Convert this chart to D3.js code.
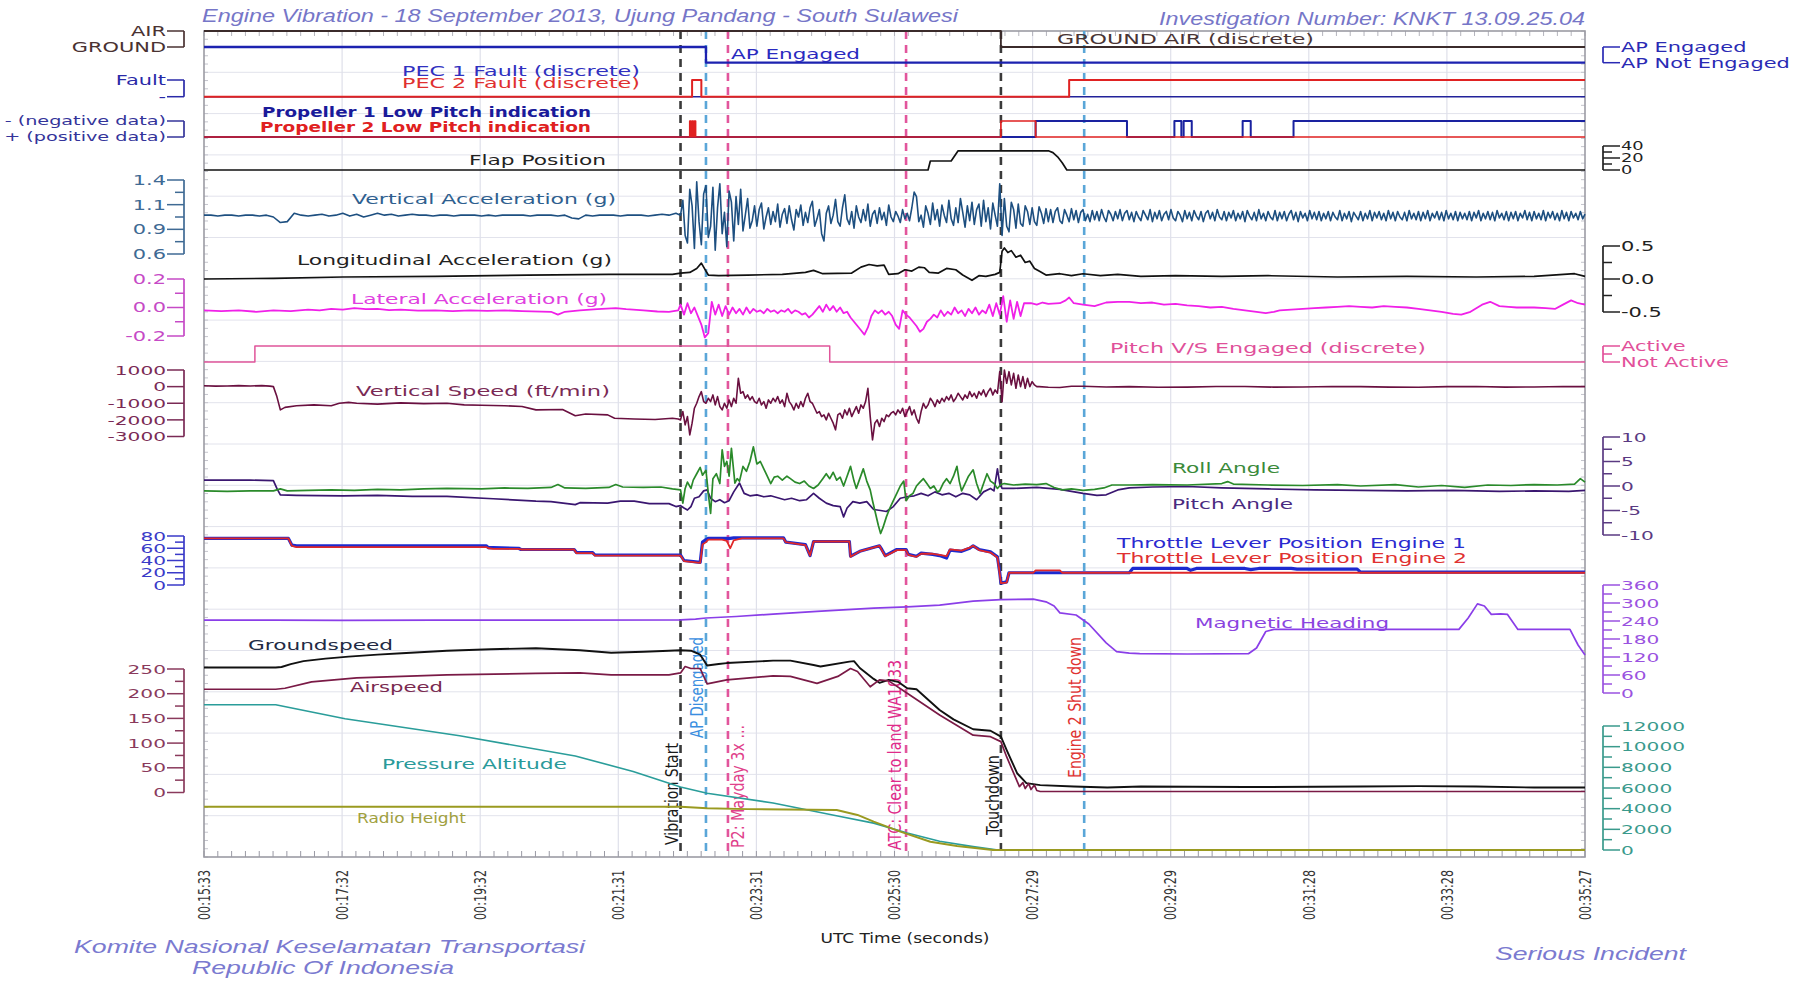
<!DOCTYPE html>
<html>
<head>
<meta charset="utf-8">
<title>Engine Vibration - FDR parameters</title>
<script src="https://cdn.jsdelivr.net/npm/d3@7/dist/d3.min.js"></script>
<style>
  html, body { margin: 0; padding: 0; background: #ffffff; }
  svg { display: block; }
</style>
</head>
<body>
<svg id="chart" width="1803" height="981"></svg>
<script>
// ------------------------------------------------------------------
// Flight data. Times are seconds after 00:15:33 UTC.
// ------------------------------------------------------------------
const timeTickLabels = ["00:15:33","00:17:32","00:19:32","00:21:31","00:23:31","00:25:30",
                        "00:27:29","00:29:29","00:31:28","00:33:28","00:35:27"];
const spanSeconds = 1194;

const eventNames = ["Vibration Start","AP Disengaged","P2: Mayday 3x ...",
                    "ATC: Clear to land WA1033","Touchdown","Engine 2 Shut down"];
const eventTimes = [412, 434, 453, 607, 689, 761];

// discrete parameters, [time, state]
const airGround = [[0,1],[689,0],[1194,0]];            // 1 = AIR, 0 = GROUND
const apEngaged = [[0,1],[434,0],[1194,0]];            // 1 = engaged
const pec1Fault = [[0,0],[1194,0]];
const pec2Fault = [[0,0],[422,1],[430,0],[748,1],[1194,1]];
const prop1LowPitch = [[0,0],[719,1],[798,0],[839,1],[845,0],[847,1],[854,0],[898,1],[905,0],[942,1],[1194,1]];
const prop2LowPitch = [[0,0],[420,1],[421,0],[422,1],[423,0],[424,1],[425,0],[689,1],[719,0],[1194,0]];
const pitchVSEngaged = [[0,0],[44,1],[541,0],[1194,0]];

// flap position (deg)
const flapPosition = [[0,0],[626,0],[628,15],[646,15],[652,32],[730,32],[734,29],[738,22],[742,12],[746,0],[1194,0]];

// vertical acceleration (g): 6 s samples before the vibration, 2 s samples from its start
const vertAccelPre = [1.02,1.02,1.01,1.02,1.02,1.01,1.02,1.02,1.01,1.02,
                      1.0,0.94,0.95,1.04,1.02,1.01,1.02,1.03,1.01,1.02,
                      1.04,1.01,1.03,1.0,1.02,1.04,1.02,1.03,1.01,1.02,
                      1.03,1.02,1.02,1.01,1.02,1.02,1.01,1.02,1.02,1.02,
                      1.01,1.02,1.01,1.02,1.02,1.02,1.02,1.01,1.02,1.02,
                      1.02,1.01,1.02,0.99,0.98,1.02,1.01,1.02,1.02,1.02,
                      1.01,1.02,1.02,1.02,1.01,1.02,1.03,1.02,1.04];
const vertAccelVib = [1.02,1.18,0.8,0.72,1.3,1.12,0.66,1.38,0.95,0.7,1.25,1.34,0.78,0.9,1.32,0.64,1.1,1.36,0.82,1.05,
                      0.68,1.28,1.16,0.74,1.22,0.92,1.3,0.85,1.02,1.2,0.88,0.96,1.12,0.9,1.08,1.15,0.87,1.0,1.1,0.92,
                      1.06,0.95,1.14,0.89,1.03,1.09,0.93,1.12,0.97,0.86,1.08,1.0,1.13,0.91,1.05,0.94,1.1,1.17,0.9,0.98,
                      1.08,0.82,0.74,1.04,1.12,0.93,1.02,1.19,0.95,0.9,1.1,1.24,0.98,0.92,1.06,0.88,1.12,1.0,0.94,1.08,
                      0.96,1.14,0.9,1.03,1.07,0.93,1.1,0.97,1.05,0.91,1.13,1.0,0.95,1.06,1.01,0.94,1.08,0.98,1.04,0.96,
                      1.1,1.27,1.22,0.95,1.02,0.89,1.12,1.04,0.92,1.15,0.97,1.08,0.9,1.13,1.02,0.94,1.18,0.98,0.91,1.1,
                      0.94,1.2,1.05,0.89,1.12,0.96,1.16,0.92,1.08,1.14,0.9,1.18,0.95,1.1,0.87,1.15,1.02,0.9,1.36];
const vertAccelPost = [0.8,1.2,0.9,0.84,1.16,1.08,0.88,1.14,0.93,0.9,1.12,1.06,0.92,1.1,0.95,0.91,1.11,1.04,0.93,1.09,
                       0.95,1.08,0.94,1.06,1.1,0.96,0.93,1.08,1.02,0.95,1.09,0.97,1.07,0.94,1.05,1.08,0.96,1.03,0.95,1.07,
                       0.97,1.06,0.96,1.08,1.0,0.95,1.07,1.03,0.96,1.06,0.98,1.08,0.96,1.04,1.07,0.97,1.05,0.95,1.06,1.0,
                       0.96,1.07,1.02,0.97,1.08,0.95,1.05,0.98,1.07,0.96,1.03,1.06,0.97,1.08,0.99,0.96,1.06,1.02,0.95,1.07,
                       0.98,1.05,0.96,1.07,1.01,0.97,1.06,0.95,1.04,1.07,0.98,1.05,0.96,1.08,1.0,0.97,1.06,0.96,1.05,0.99,
                       1.07,0.96,1.04,0.98,1.06,0.95,1.07,1.01,0.97,1.05,0.96,1.08,0.98,1.04,0.96,1.06,1.0,0.97,1.07,0.96,
                       1.05,0.98,1.06,0.96,1.03,1.07,0.97,1.05,0.95,1.06,0.99,1.04,0.96,1.07,0.98,1.05,0.97,1.06,0.96,1.04,
                       0.98,1.06,0.96,1.05,1.0,0.97,1.07,0.96,1.04,0.98,1.06,0.95,1.05,1.01,0.97,1.06,0.96,1.04,0.98,1.07,
                       0.96,1.05,0.99,1.06,0.97,1.04,0.96,1.07,0.98,1.05,0.96,1.06,1.0,0.97,1.05,0.96,1.07,0.98,1.04,0.97,
                       1.06,0.96,1.05,0.98,1.07,0.96,1.04,0.99,1.06,0.97,1.05,0.96,1.07,0.98,1.04,0.97,1.06,0.96,1.05,0.98,
                       1.04,0.97,1.06,0.96,1.05,0.99,1.07,0.96,1.04,0.98,1.06,0.97,1.05,0.96,1.07,0.99,1.04,0.97,1.06,0.96,
                       1.05,0.98,1.06,0.96,1.04,0.99,1.07,0.97,1.05,0.96,1.06,0.98,1.04,0.97,1.07,0.96,1.05,0.99,1.06,0.97,
                       1.04,0.96,1.07,0.98,1.05,0.96,1.06,0.99,1.04,0.97,1.06,0.98,1.03];

// longitudinal acceleration (g)
const longAccel = [[0,0.0],[60,0.01],[120,0.03],[200,0.04],[280,0.06],[350,0.07],[405,0.07],[412,0.09],[420,0.1],
  [426,0.16],[430,0.24],[433,0.15],[436,0.06],[445,0.05],[470,0.06],[500,0.07],[520,0.1],[527,0.13],[535,0.08],
  [560,0.09],[568,0.18],[575,0.22],[582,0.2],[588,0.21],[592,0.07],[600,0.08],[606,0.14],[612,0.12],[618,0.18],
  [623,0.17],[627,0.1],[635,0.09],[642,0.16],[650,0.14],[656,0.06],[664,-0.02],[670,0.05],[676,0.04],[684,0.07],
  [688,0.1],[690,0.42],[692,0.47],[695,0.4],[698,0.43],[702,0.33],[706,0.36],[710,0.25],[714,0.27],[718,0.16],
  [722,0.12],[728,0.06],[740,0.08],[750,0.05],[760,0.08],[775,0.05],[790,0.07],[810,0.04],[840,0.05],[880,0.04],
  [920,0.05],[980,0.03],[1040,0.04],[1100,0.03],[1150,0.04],[1185,0.08],[1194,0.04]];

// lateral acceleration (g)
const latAccelPre = [[0,-0.02],[15,-0.025],[30,-0.02],[45,-0.03],[60,-0.02],[75,-0.025],[90,-0.015],[100,-0.02],
  [110,-0.01],[120,-0.015],[130,-0.005],[140,-0.012],[150,-0.01],[160,-0.018],[170,-0.015],[185,-0.022],[200,-0.02],
  [215,-0.025],[230,-0.02],[245,-0.024],[260,-0.02],[275,-0.025],[300,-0.03],[306,-0.05],[312,-0.03],[325,-0.02],
  [340,-0.012],[356,-0.005],[365,-0.012],[380,-0.02],[392,-0.028],[402,-0.03],[410,-0.02]];
const latAccelVib = [0.02,-0.05,0.03,-0.04,0.0,-0.06,-0.12,-0.21,-0.18,0.04,-0.05,0.02,-0.06,0.01,-0.05,0.0,-0.04,
  -0.01,-0.05,0.0,-0.04,-0.01,-0.03,-0.02,-0.04,-0.01,-0.03,-0.02,-0.04,-0.02,-0.03,-0.01,-0.04,-0.02,-0.03,-0.05,
  -0.04,-0.07,-0.05,-0.02,0.01,-0.03,0.02,-0.02,0.01,-0.03,0.0,-0.04,-0.03,-0.07,-0.1,-0.13,-0.16,-0.19,-0.14,
  -0.06,-0.02,-0.04,-0.02,-0.05,-0.03,-0.06,-0.12,-0.15,-0.02,-0.05,-0.07,-0.1,-0.13,-0.17,-0.15,-0.1,-0.08,-0.05,
  -0.07,-0.02,-0.06,-0.03,-0.05,0.0,-0.04,-0.02,-0.06,-0.01,-0.04,0.0,-0.05,-0.02,-0.04,0.02,-0.06,0.03,-0.05,0.08,
  -0.1,0.05,-0.08,0.04,-0.06,0.03,0.03];
const latAccelPost = [[715,0.03],[720,0.02],[725,0.035],[730,0.025],[740,0.03],[745,0.05],[748,0.07],[752,0.03],
  [760,0.02],[770,0.01],[780,0.035],[790,0.04],[800,0.04],[810,0.03],[820,0.035],[830,0.02],[840,0.025],[850,0.015],
  [860,0.01],[870,0.0],[880,0.005],[890,-0.01],[900,-0.02],[910,-0.03],[918,-0.04],[925,-0.03],[930,-0.02],
  [940,-0.015],[950,-0.01],[960,-0.005],[970,0.0],[980,0.005],[990,0.01],[1000,0.005],[1010,0.0],[1020,0.01],
  [1030,0.005],[1040,0.0],[1050,-0.01],[1060,-0.02],[1070,-0.03],[1080,-0.045],[1087,-0.05],[1095,-0.03],
  [1105,0.02],[1112,0.04],[1120,0.01],[1128,0.005],[1135,0.0],[1150,0.0],[1160,-0.005],[1168,-0.01],[1175,0.02],
  [1182,0.05],[1188,0.03],[1194,0.02]];

// vertical speed (ft/min)
const vertSpeedPre = [[0,50],[10,30],[20,40],[30,60],[40,40],[50,60],[57,30],[60,0],[63,-600],[66,-1400],[70,-1250],
  [80,-1150],[95,-1100],[110,-1150],[117,-1000],[125,-950],[132,-1000],[150,-1050],[170,-980],[190,-1020],
  [210,-1000],[225,-1100],[240,-1120],[260,-1150],[275,-1200],[287,-1400],[310,-1380],[321,-1750],[330,-1650],
  [349,-1700],[355,-1900],[372,-1950],[390,-1980],[405,-1900],[410,-1950]];
const vertSpeedVib = [-2000,-1500,-2300,-1800,-2900,-2200,-1300,-1000,-600,-300,-900,-1000,-700,-900,-500,-1100,
  -600,-1200,-1400,-1000,-1300,-800,-1200,-700,-1000,500,-400,-300,-700,-500,-800,-600,-900,-1000,-700,-1100,-900,
  -1300,-800,-1000,-700,-900,-600,-1000,-800,-1200,-400,-900,-1100,-1400,-1000,-1300,-900,-1200,-700,-400,-900,
  -1000,-1300,-1600,-1500,-1800,-1700,-2000,-1600,-1900,-2200,-2600,-1700,-1600,-1900,-1400,-1700,-1300,-1800,
  -1500,-1200,-1600,-1100,-1300,-900,-100,-1800,-3200,-2200,-2000,-2400,-1900,-2100,-1700,-1800,-1600,-1500,-1700,
  -1400,-1600,-1300,-1800,-1500,-1200,-1700,-1400,-1900,-2200,-1500,-1000,-1300,-1100,-700,-900,-1200,-800,-1000,
  -700,-900,-600,-800,-500,-900,-700,-400,-600,-800,-500,-700,-300,-600,-400,-700,-300,-500,-200,-600,-300,-100,
  -500,-200,-400,900,-900,1000,200,900,100,800,-100,700,0,600,-100,500,0,300,100,0];
const vertSpeedPost = [[722,0],[730,-40],[740,-50],[750,20],[760,20],[780,-20],[800,0],[825,-40],[850,-30],
  [875,10],[900,10],[925,-30],[950,-20],[975,10],[1000,0],[1025,-30],[1050,-40],[1075,0],[1100,10],[1125,-30],
  [1150,-20],[1175,10],[1194,0]];

// roll and pitch angle (deg)
const rollAngle = [[0,-1],[20,-1.1],[40,-1],[60,-1],[66,-0.6],[72,-1],[90,-0.9],[110,-0.8],[130,-0.9],[150,-0.7],
  [170,-0.8],[190,-0.6],[210,-0.5],[240,-0.6],[260,-0.4],[280,-0.5],[300,-0.3],[306,0.3],[312,-0.4],[330,-0.5],
  [350,-0.3],[356,0.3],[362,-0.2],[380,-0.3],[395,-0.2],[405,-0.6],[412,-0.8],[414,-3.5],[416,-0.5],[418,0.8],
  [421,-0.5],[423,1.2],[426,2.5],[429,3.8],[431,2.2],[434,3.2],[436,-1.5],[438,-5.6],[440,1.5],[443,2.5],[446,0.5],
  [448,7.4],[450,4],[452,5],[454,2],[456,7.7],[459,0.6],[461,1.5],[463,1],[466,4],[469,3],[472,5],[475,8],[478,4.5],
  [481,5],[484,3.5],[487,2],[490,0.5],[493,1.8],[496,2],[500,1.2],[504,2],[507,1.5],[511,0.8],[515,0.5],[519,1],
  [523,0],[527,-0.5],[531,0.2],[535,1.5],[538,2.5],[541,1.5],[544,2.8],[547,1.2],[550,1.8],[553,0],[556,2],[559,4],
  [562,1],[564,-0.5],[567,1.5],[570,3.5],[573,1],[576,-0.8],[578,-3],[580,-5],[583,-8],[585,-9.7],[587,-8.5],
  [590,-6.3],[593,-4.5],[596,-3],[599,-1.5],[602,0],[605,1],[607,-3],[610,-2],[613,-1.5],[616,0],[619,0.8],
  [622,1.5],[625,0.5],[628,-0.5],[631,0],[634,-1.2],[636,-1],[639,0.5],[642,1.5],[645,0.5],[648,2],[651,4],[653,1],
  [655,-1],[658,0.5],[661,2],[665,3.3],[668,0.5],[671,-1.5],[674,0.5],[677,2.5],[680,1],[683,0.5],[686,-0.5],
  [689,0.3],[692,0.5],[700,0.2],[710,0.4],[720,0.3],[728,0.5],[735,-0.3],[742,-0.8],[750,-0.6],[760,-0.9],
  [770,-0.7],[778,-0.4],[785,0.2],[800,0.2],[820,0.3],[850,0.2],[880,0.5],[885,0.9],[890,0.4],[920,0.2],[950,0.1],
  [980,0.3],[1000,0],[1030,0.3],[1050,-0.2],[1070,0.1],[1090,-0.3],[1110,0.2],[1130,0.1],[1150,0.3],[1170,0.2],
  [1185,0.4],[1190,1.5],[1194,0.8]];
const pitchAngle = [[0,1.2],[40,1.2],[60,1.1],[63,-0.5],[66,-1.8],[80,-1.9],[120,-2],[150,-1.9],[180,-2.1],
  [210,-2.1],[250,-2.6],[287,-3.1],[300,-3.2],[321,-3.8],[325,-3.4],[349,-3.5],[360,-3.1],[372,-3.1],[385,-3.6],
  [402,-3.6],[408,-4.2],[412,-4],[415,-4.5],[418,-4.9],[421,-4.2],[424,-2.5],[428,-2.2],[432,-1],[435,-0.8],
  [438,-2.5],[442,-3.2],[446,-2.8],[450,-3.4],[454,-3],[458,-1.2],[463,0.6],[467,-1.5],[472,-2],[478,-1.8],
  [484,-2.2],[490,-2],[496,-2.4],[502,-2.8],[508,-2.5],[515,-3],[521,-2.8],[527,-1.5],[532,-2.5],[538,-3.5],
  [544,-4],[550,-4.2],[553,-6.3],[556,-4.5],[561,-3.2],[567,-3.5],[573,-3.2],[579,-4.8],[585,-5],[590,-5.2],
  [596,-4.2],[602,-2.5],[608,-2.2],[614,-2],[620,-1.5],[626,-2],[632,-1.2],[638,-1.8],[644,-1.5],[650,-2.2],
  [656,-1.5],[662,-1.8],[668,-2.8],[674,-1.2],[680,-0.5],[683,-1],[686,3.5],[688,0.5],[690,-0.5],[700,-0.5],
  [720,-0.3],[740,-0.7],[760,-1.5],[772,-1.9],[780,-1.8],[790,-0.8],[800,-0.4],[820,-0.2],[850,-0.1],[880,-0.4],
  [920,-0.6],[960,-0.8],[1000,-0.9],[1040,-1.0],[1080,-0.9],[1120,-1.1],[1150,-1.0],[1180,-1.1],[1194,-0.9]];

// throttle lever position (deg)
const tlaEngine1 = [[0,76],[73,76],[76,65],[80,64],[244,64],[246,61],[250,61],[272,60],[274,58],[320,58],[322,53],
  [336,53],[338,49],[412,49],[415,40],[429,37],[431,70],[434,74],[436,76],[452,76],[455,76],[458,77],[501,77],
  [503,70],[520,66],[524,48],[527,71],[558,71],[559,47],[567,55],[584,64],[586,58],[589,48],[599,58],[607,58],
  [609,50],[616,47],[620,52],[630,50],[636,48],[642,44],[645,57],[655,55],[662,60],[665,64],[670,58],[680,54],
  [686,46],[688,20],[689,3],[694,5],[696,20],[800,20],[803,27],[850,27],[853,24],[858,27],[900,27],[905,25],
  [912,27],[940,27],[945,26],[997,26],[1000,21],[1194,21]];
const tlaEngine2 = [[0,76],[73,76],[76,64],[80,62],[244,62],[246,60],[250,59],[272,59],[274,58],[320,58],[322,52],
  [336,52],[338,48],[412,48],[415,39],[429,36],[431,66],[434,70],[436,74],[448,74],[452,72],[455,60],[458,73],
  [465,76],[501,76],[503,70],[520,65],[524,48],[527,71],[558,71],[559,46],[567,55],[584,64],[586,57],[589,47],
  [599,57],[607,57],[609,49],[616,46],[620,51],[630,51],[636,49],[642,47],[645,58],[655,56],[662,61],[665,64],
  [670,57],[680,53],[686,45],[688,18],[689,3],[694,4],[696,20],[717,20],[719,24],[740,24],[742,20],[1194,20]];

// magnetic heading (deg)
const magHeading = [[0,243],[60,243],[120,242],[200,243],[300,243],[412,244],[425,246],[434,250],[460,255],
  [492,263],[530,272],[579,283],[608,287],[636,293],[665,306],[689,311],[717,313],[728,304],[735,290],[740,267],
  [754,260],[765,230],[780,167],[789,138],[800,133],[809,131],[850,130],[903,131],[910,150],[918,205],[925,212],
  [1085,212],[1093,250],[1101,297],[1107,290],[1113,262],[1121,264],[1127,262],[1136,212],[1181,212],[1188,160],
  [1194,127]];

// groundspeed and airspeed (kt)
const groundSpeed = [[0,253],[62,253],[67,254],[75,260],[86,266],[105,271],[125,275],[150,279],[171,282],
  [210,287],[248,290],[287,292],[325,288],[352,283],[380,285],[402,287],[412,288],[421,287],[429,279],[435,257],
  [445,260],[452,262],[492,267],[507,267],[527,258],[533,255],[558,265],[562,266],[567,252],[579,230],[584,222],
  [592,228],[600,224],[608,211],[616,209],[636,167],[648,148],[665,128],[680,125],[689,113],[694,86],[703,39],
  [711,19],[723,15],[752,12],[781,10],[810,12],[900,11],[1000,12],[1050,13],[1100,12],[1150,10],[1194,10]];
const airSpeed = [[0,209],[62,209],[70,211],[93,224],[132,232],[210,238],[287,241],[325,242],[352,238],[402,238],
  [412,242],[416,255],[421,251],[429,251],[435,220],[452,228],[492,236],[507,235],[530,221],[548,235],[559,251],
  [565,245],[576,214],[584,228],[592,226],[608,201],[636,157],[665,116],[680,113],[689,103],[694,72],[705,12],
  [708,20],[710,8],[713,18],[715,6],[718,15],[720,4],[723,2],[1194,2]];

// pressure altitude and radio height (ft)
const pressureAlt = [[0,14050],[62,14050],[122,12700],[221,11050],[321,9100],[371,7600],[412,6100],[435,5500],
  [492,4550],[550,3250],[579,2600],[608,1650],[636,850],[665,330],[685,20],[700,0],[1194,0]];
const radioHeight = [[0,4190],[412,4190],[435,4040],[470,3960],[547,3870],[565,3390],[579,2740],[602,1770],
  [628,800],[651,390],[682,0],[1194,0]];

// axis ranges
const flapDomain = [0, 40];
const vertAccelDomain = [0.6, 1.4];
const longAccelDomain = [-0.5, 0.5];
const latAccelDomain = [-0.2, 0.2];
const vertSpeedDomain = [-3000, 1000];
const attitudeDomain = [-10, 10];
const tlaDomain = [0, 80];
const headingDomain = [0, 360];
const speedDomain = [0, 250];
const altitudeDomain = [0, 12000];

// ------------------------------------------------------------------
// Drawing
// ------------------------------------------------------------------
const FONT = "'DejaVu Sans', Verdana, sans-serif";
const NARROW = "'Liberation Sans Narrow', 'DejaVu Sans Condensed', 'Liberation Sans', sans-serif";
const ITALIC = "'Liberation Sans', Arial, sans-serif";
const labelStretch = 1.55;

const svg = d3.select('#chart');
const plot = { left: 204, right: 1585, top: 31, bottom: 857 };

const sampled = (start, step, values) => values.map((v, i) => [start + i * step, v]);

const x = d3.scaleLinear().domain([0, spanSeconds]).range([plot.left, plot.right]);

const yAirGround = d3.scaleLinear().domain([0, 1]).range([47, 31]);
const yAP        = d3.scaleLinear().domain([0, 1]).range([62.7, 47]);
const yPEC       = d3.scaleLinear().domain([0, 1]).range([96.7, 80]);
const yProp      = d3.scaleLinear().domain([0, 1]).range([137, 121]);
const yFlap      = d3.scaleLinear().domain(flapDomain).range([170, 146]);
const yVertAcc   = d3.scaleLinear().domain(vertAccelDomain).range([254, 180]);
const yLongAcc   = d3.scaleLinear().domain(longAccelDomain).range([312, 246]);
const yLatAcc    = d3.scaleLinear().domain(latAccelDomain).range([336, 279]);
const yPitchVS   = d3.scaleLinear().domain([0, 1]).range([362, 346]);
const yVS        = d3.scaleLinear().domain(vertSpeedDomain).range([436.5, 370]);
const yAtt       = d3.scaleLinear().domain(attitudeDomain).range([535, 437]);
const yTLA       = d3.scaleLinear().domain(tlaDomain).range([585, 536]);
const yHdg       = d3.scaleLinear().domain(headingDomain).range([693, 585]);
const ySpd       = d3.scaleLinear().domain(speedDomain).range([792.5, 669]);
const yAlt       = d3.scaleLinear().domain(altitudeDomain).range([850, 726]);

// ---------- grid and frame ----------
const grid = svg.append('g');
const gridRows = 20;
for (let k = 1; k < gridRows; k++) {
  const y = plot.top + k * (plot.bottom - plot.top) / gridRows;
  grid.append('line').attr('x1', plot.left).attr('x2', plot.right).attr('y1', y).attr('y2', y)
    .attr('stroke', '#e2e3ec').attr('stroke-width', 1);
}
const tickSeconds = timeTickLabels.map((_, i) => i * spanSeconds / (timeTickLabels.length - 1));
tickSeconds.forEach((t, i) => {
  if (i === 0 || i === tickSeconds.length - 1) return;
  grid.append('line').attr('x1', x(t)).attr('x2', x(t)).attr('y1', plot.top).attr('y2', plot.bottom)
    .attr('stroke', '#dfe0ea').attr('stroke-width', 1.2);
});

const frame = svg.append('g');
for (let i = 0; i <= 100; i++) {
  const xx = x(i * spanSeconds / 100);
  frame.append('line').attr('x1', xx).attr('x2', xx).attr('y1', plot.bottom).attr('y2', plot.bottom - 6)
    .attr('stroke', '#9a9aa4').attr('stroke-width', 1);
  frame.append('line').attr('x1', xx).attr('x2', xx).attr('y1', plot.top).attr('y2', plot.top + 5)
    .attr('stroke', '#b4b4bc').attr('stroke-width', 1);
}
for (let k = 0; k <= 100; k++) {
  const y = plot.top + k * (plot.bottom - plot.top) / 100;
  frame.append('line').attr('x1', plot.left).attr('x2', plot.left + 4).attr('y1', y).attr('y2', y)
    .attr('stroke', '#c4c4cc').attr('stroke-width', 1);
  frame.append('line').attr('x1', plot.right - 4).attr('x2', plot.right).attr('y1', y).attr('y2', y)
    .attr('stroke', '#c4c4cc').attr('stroke-width', 1);
}
frame.append('rect').attr('x', plot.left).attr('y', plot.top)
  .attr('width', plot.right - plot.left).attr('height', plot.bottom - plot.top)
  .attr('fill', 'none').attr('stroke', '#9c9ca4').attr('stroke-width', 1.6);

// ---------- text helpers ----------
function fitText(g, str, x0, y0, width, o = {}) {
  const t = g.append('text').attr('x', x0).attr('y', y0).attr('dy', o.dy || '0.36em')
    .attr('font-family', o.family || FONT).attr('font-size', o.size || 14.5)
    .attr('fill', o.fill || '#222').attr('text-anchor', o.anchor || 'start')
    .attr('textLength', width).attr('lengthAdjust', 'spacingAndGlyphs').text(str);
  if (o.weight) t.attr('font-weight', o.weight);
  if (o.italic) t.attr('font-style', 'italic');
  if (o.rotate) t.attr('transform', `rotate(${o.rotate},${x0},${y0})`);
  return t;
}
function axisText(g, str, x0, y0, anchor, color, size) {
  return g.append('text')
    .attr('transform', `translate(${x0},${y0}) scale(${labelStretch},1)`)
    .attr('text-anchor', anchor).attr('dy', '0.36em')
    .attr('font-family', FONT).attr('font-size', size).attr('fill', color).text(str);
}

// bracket-style value axis at the left or right of the plot
function bracketAxis(scale, ticks, labelled, side, color, size = 13) {
  const g = svg.append('g');
  const xLine = side === 'left' ? 184 : 1603;
  const dir = side === 'left' ? -1 : 1;
  const ys = ticks.map(v => scale(v));
  g.append('line').attr('x1', xLine).attr('x2', xLine)
    .attr('y1', d3.min(ys)).attr('y2', d3.max(ys))
    .attr('stroke', color).attr('stroke-width', 1.7);
  ticks.forEach(v => {
    const lab = labelled.find(l => Math.abs(l[0] - v) < 1e-9);
    const len = lab ? 17 : 9;
    g.append('line').attr('x1', xLine).attr('x2', xLine + dir * len)
      .attr('y1', scale(v)).attr('y2', scale(v)).attr('stroke', color).attr('stroke-width', 1.5);
    if (lab) axisText(g, lab[1], xLine + dir * 18, scale(v), side === 'left' ? 'end' : 'start', color, size);
  });
}
const evenTicks = (domain, n) => d3.range(n + 1).map(i => domain[0] + i * (domain[1] - domain[0]) / n);
const hyphen = f => v => f(v).replace('\u2212', '-');
const fmt1 = hyphen(d3.format('.1f'));
const fmtInt = hyphen(d3.format('d'));
const withLabels = (ticks, every, f) => ticks.filter((_, i) => i % every === 0).map(v => [v, f(v)]);

// ---------- axes ----------
bracketAxis(yAirGround, [0, 1], [[1, 'AIR'], [0, 'GROUND']], 'left', '#4a3232', 13.5);
bracketAxis(yAP, [0, 1], [[1, 'AP Engaged'], [0, 'AP Not Engaged']], 'right', '#2a2ab4', 13.5);
bracketAxis(yPEC, [0, 1], [[1, 'Fault'], [0, '-']], 'left', '#2a2aa8', 13.5);
bracketAxis(yProp, [0, 1], [[1, '- (negative data)'], [0, '+ (positive data)']], 'left', '#34349a', 12.4);
{
  const t = evenTicks(flapDomain, 4);
  bracketAxis(yFlap, t, withLabels(t, 2, fmtInt), 'right', '#222', 11.5);
}
{
  const t = evenTicks(vertAccelDomain, 6);
  bracketAxis(yVertAcc, t, withLabels(t, 2, fmt1), 'left', '#3f6a94', 13.5);
}
{
  const t = evenTicks(longAccelDomain, 4);
  bracketAxis(yLongAcc, t, withLabels(t, 2, fmt1), 'right', '#222', 13.5);
}
{
  const t = evenTicks(latAccelDomain, 4);
  bracketAxis(yLatAcc, t, withLabels(t, 2, fmt1), 'left', '#c64ac6', 13.5);
}
bracketAxis(yPitchVS, [0, 0.5, 1], [[1, 'Active'], [0, 'Not Active']], 'right', '#e2509a', 13.5);
{
  const t = evenTicks(vertSpeedDomain, 4);
  bracketAxis(yVS, t, withLabels(t, 1, fmtInt), 'left', '#7a2a55', 13);
}
{
  const t = evenTicks(attitudeDomain, 8);
  bracketAxis(yAtt, t, withLabels(t, 2, fmtInt), 'right', '#5a3a82', 13);
}
{
  const t = evenTicks(tlaDomain, 8);
  bracketAxis(yTLA, t, withLabels(t, 2, fmtInt), 'left', '#3a3ac8', 13);
}
{
  const t = evenTicks(headingDomain, 12);
  bracketAxis(yHdg, t, withLabels(t, 2, fmtInt), 'right', '#9a52e0', 13);
}
{
  const t = evenTicks(speedDomain, 10);
  bracketAxis(ySpd, t, withLabels(t, 2, fmtInt), 'left', '#8a3a5c', 13);
}
{
  const t = evenTicks(altitudeDomain, 12);
  bracketAxis(yAlt, t, withLabels(t, 2, fmtInt), 'right', '#3a9a8c', 13);
}

// ---------- time axis ----------
const timeAxis = svg.append('g');
tickSeconds.forEach((t, i) => {
  fitText(timeAxis, timeTickLabels[i], x(t), 870, 50,
    { size: 16, family: FONT, fill: '#333', anchor: 'end', rotate: -90, dy: '0.36em' });
});
fitText(timeAxis, 'UTC Time (seconds)', 905, 938, 169, { size: 14, family: NARROW, fill: '#222', anchor: 'middle' });

// ---------- event markers ----------
const eventStyle = [
  { line: '#3a3a3a', text: '#1a1a1a', dx: -8.5, bottom: 845, len: 102 },
  { line: '#5aa6d8', text: '#3a8ee0', dx: -9,   bottom: 738, len: 101 },
  { line: '#e2559c', text: '#e0408a', dx: 10,   bottom: 848, len: 123 },
  { line: '#e2559c', text: '#e02a8a', dx: -11,  bottom: 850, len: 190 },
  { line: '#3a3a3a', text: '#1a1a1a', dx: -8,   bottom: 835, len: 80 },
  { line: '#5aa6d8', text: '#e03232', dx: -9,   bottom: 778, len: 141 }
];
const eventLayer = svg.append('g');
eventTimes.forEach((t, i) => {
  const s = eventStyle[i];
  eventLayer.append('line').attr('x1', x(t)).attr('x2', x(t)).attr('y1', plot.top).attr('y2', plot.bottom - 3)
    .attr('stroke', s.line).attr('stroke-width', 2.6).attr('stroke-dasharray', '8,6');
  fitText(eventLayer, eventNames[i], x(t) + s.dx, s.bottom, s.len,
    { size: 17, family: NARROW, fill: s.text, rotate: -90, dy: '0.36em' });
});

// ---------- series ----------
const lines = svg.append('g').attr('fill', 'none').attr('stroke-linejoin', 'round');
function draw(data, yScale, color, width, curve = d3.curveLinear) {
  const gen = d3.line().x(d => x(d[0])).y(d => yScale(d[1])).curve(curve);
  lines.append('path').attr('d', gen(data)).attr('stroke', color).attr('stroke-width', width);
}
const step = d3.curveStepAfter;

draw(airGround, yAirGround, '#3b2b2b', 1.8, step);
draw(apEngaged, yAP, '#1c22b0', 2.3, step);
draw(pec1Fault, yPEC, '#22229a', 1.5, step);
draw(pec2Fault, yPEC, '#e02222', 2.0, step);
draw(prop1LowPitch, yProp, '#1a22a0', 2.0, step);
draw(prop2LowPitch, yProp, '#e02020', 1.7, step);
draw(flapPosition, yFlap, '#111111', 1.7);

const vertAccel = [...sampled(0, 6, vertAccelPre), ...sampled(412, 2, vertAccelVib), ...sampled(690, 2, vertAccelPost)];
draw(vertAccel, yVertAcc, '#1d4f80', 1.6);
draw(longAccel, yLongAcc, '#111111', 1.7);
const latAccel = [...latAccelPre, ...sampled(412, 3, latAccelVib), ...latAccelPost];
draw(latAccel, yLatAcc, '#f020e8', 1.8);
draw(pitchVSEngaged, yPitchVS, '#e0559a', 1.5, step);
const vertSpeed = [...vertSpeedPre, ...sampled(412, 2, vertSpeedVib), ...vertSpeedPost];
draw(vertSpeed, yVS, '#6a1040', 1.6);
draw(pitchAngle, yAtt, '#3a1670', 1.7);
draw(rollAngle, yAtt, '#2a8a2a', 1.7);
draw(tlaEngine1, yTLA, '#1c2ad0', 3.2);
draw(tlaEngine2, yTLA, '#e02828', 1.8);
draw(magHeading, yHdg, '#8a3ee8', 1.7);
draw(groundSpeed, ySpd, '#111111', 1.9);
draw(airSpeed, ySpd, '#7a1a46', 1.7);
draw(pressureAlt, yAlt, '#2a9d9a', 1.6);
draw(radioHeight, yAlt, '#9a9a20', 1.9);

// ---------- series names ----------
const names = svg.append('g');
fitText(names, 'AP Engaged', 731, 54, 129, { fill: '#2a2ac0' });
fitText(names, 'GROUND AIR (discrete)', 1057, 39, 257, { fill: '#4a3535' });
fitText(names, 'PEC 1 Fault (discrete)', 402, 71, 238, { fill: '#3030c0', size: 13.5 });
fitText(names, 'PEC 2 Fault (discrete)', 402, 83.5, 238, { fill: '#e03030', size: 13.5 });
fitText(names, 'Propeller 1 Low Pitch indication', 262, 112, 329, { fill: '#1a1a9a', weight: 'bold' });
fitText(names, 'Propeller 2 Low Pitch indication', 260, 126.5, 331, { fill: '#e02020', weight: 'bold' });
fitText(names, 'Flap Position', 469, 160, 137, { fill: '#222' });
fitText(names, 'Vertical Acceleration (g)', 352, 199, 264, { fill: '#2f5f8f' });
fitText(names, 'Longitudinal Acceleration (g)', 297, 260, 315, { fill: '#222' });
fitText(names, 'Lateral Acceleration (g)', 351, 299, 256, { fill: '#e040e0' });
fitText(names, 'Pitch V/S Engaged (discrete)', 1110, 348, 316, { fill: '#e0509a' });
fitText(names, 'Vertical Speed (ft/min)', 356, 391, 254, { fill: '#7a2a55' });
fitText(names, 'Roll Angle', 1172, 468, 108, { fill: '#3a8a3a' });
fitText(names, 'Pitch Angle', 1172, 504, 121, { fill: '#4a2a80' });
fitText(names, 'Throttle Lever Position Engine 1', 1117, 543, 349, { fill: '#2a2ad0' });
fitText(names, 'Throttle Lever Position Engine 2', 1117, 558, 350, { fill: '#e03030' });
fitText(names, 'Magnetic Heading', 1195, 623, 194, { fill: '#8a44e0' });
fitText(names, 'Groundspeed', 248, 645, 145, { fill: '#222a44' });
fitText(names, 'Airspeed', 350, 687, 93, { fill: '#7a2a50' });
fitText(names, 'Pressure Altitude', 382, 764, 185, { fill: '#2a9a9a' });
fitText(names, 'Radio Height', 357, 818, 109, { fill: '#a0a040' });

// ---------- titles and footer ----------
const titles = svg.append('g');
fitText(titles, 'Engine Vibration - 18 September 2013, Ujung Pandang - South Sulawesi', 202, 16, 756,
  { size: 17.5, family: ITALIC, fill: '#7676c8', italic: true });
fitText(titles, 'Investigation Number: KNKT 13.09.25.04', 1585, 19, 426,
  { size: 17.5, family: ITALIC, fill: '#7676c8', italic: true, anchor: 'end' });
fitText(titles, 'Komite Nasional Keselamatan Transportasi', 74, 946, 511,
  { size: 19, family: ITALIC, fill: '#7a7ad0', italic: true });
fitText(titles, 'Republic Of Indonesia', 192, 968, 262,
  { size: 17.5, family: ITALIC, fill: '#7a7ad0', italic: true });
fitText(titles, 'Serious Incident', 1495, 953, 191,
  { size: 19, family: ITALIC, fill: '#7a7ad0', italic: true });
</script>
</body>
</html>
